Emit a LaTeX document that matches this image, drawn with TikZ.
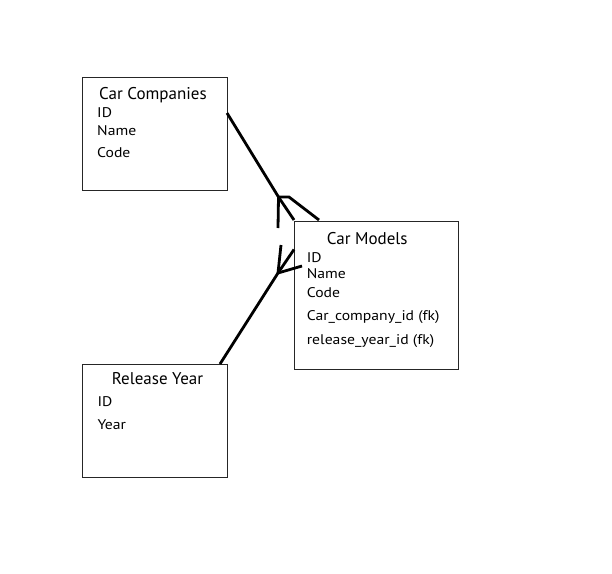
\documentclass[tikz,border=0pt]{standalone}
\usepackage{fontspec}
\setmainfont{PT Sans}
\newfontfamily\fldfont[FakeStretch=1.12]{PT Sans}
\begin{document}
\begin{tikzpicture}[x=1pt,y=-1pt,
  box/.style={draw=black!85,line width=1.1pt,inner sep=0,anchor=north west},
  ttl/.style={anchor=base west,inner sep=0,font=\fontsize{17}{17}\selectfont},
  fld/.style={anchor=base west,inner sep=0,font=\fldfont\fontsize{14}{14}\selectfont},
  conn/.style={line width=2.8pt,line cap=butt,line join=miter}]
\useasboundingbox[fill=white] (0,0) rectangle (612,573);
% boxes
\node[box,minimum width=145pt,minimum height=113pt] (cc) at (82,77) {};
\node[box,minimum width=164pt,minimum height=148pt] (cm) at (294,221) {};
\node[box,minimum width=145pt,minimum height=113pt] (ry) at (82,364) {};
% texts
\node[ttl] (cct) at (99,99) {Car Companies};
\node[fld] (cc1) at (97,117.7) {ID};
\node[fld] (cc2) at (97,135) {Name};
\node[fld] (cc3) at (97,157.3) {Code};
\node[ttl] (cmt) at (326.7,244) {Car Models};
\node[fld] (cm1) at (306.7,262.7) {ID};
\node[fld] (cm2) at (306.7,278.3) {Name};
\node[fld] (cm3) at (306.7,297.7) {Code};
\node[fld] (cm4) at (306.7,320.7) {Car\_company\_id (fk)};
\node[fld] (cm5) at (306.7,344) {release\_year\_id (fk)};
\node[ttl] (ryt) at (111.7,384) {Release Year};
\node[fld] (ry1) at (97.3,406.7) {ID};
\node[fld] (ry2) at (97.3,429) {Year};
% connector points
\coordinate (a0) at (227,113);
\coordinate (j1) at (278.5,197);
\coordinate (a1) at (278,228);
\coordinate (a2) at (289,197);
\coordinate (a3) at (319,220);
\coordinate (a4) at (294,220);
\coordinate (b0) at (220,364);
\coordinate (j2) at (278,273);
\coordinate (b1) at (281,245);
\coordinate (b2) at (294,249.5);
\coordinate (b3) at (302,266);
\draw[conn] (a0) -- (j1) -- (a4);
\draw[conn] (j1) -- (a1);
\draw[conn] (j1) -- (a2) -- (a3);
\draw[conn] (b0) -- (j2) -- (b2);
\draw[conn] (j2) -- (b1);
\draw[conn] (j2) -- (b3);
\end{tikzpicture}
\end{document}
